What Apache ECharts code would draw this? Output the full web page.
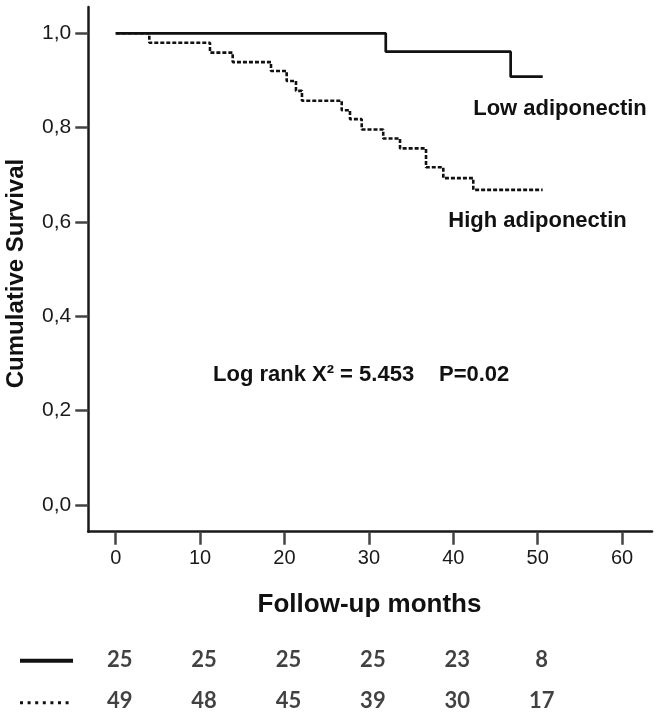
<!DOCTYPE html>
<html>
<head>
<meta charset="utf-8">
<script src="https://cdn.jsdelivr.net/npm/echarts@6/dist/echarts.min.js"></script>
<style>
html,body{margin:0;padding:0;background:#fff;}
#c{width:658px;height:721px;}
</style>
</head>
<body>
<div id="c"></div>
<script>
// Kaplan-Meier step data (months, cumulative survival)
const lowTime  = [0, 32.0, 46.8, 50.6];
const lowSurv  = [1.0, 0.961, 0.908, 0.908];
const highTime = [0, 3.98, 11.17, 13.86, 18.4, 20.26, 21.36, 22.07, 26.78, 27.76, 29.15, 31.7, 33.69, 36.77, 38.82, 42.37, 50.59];
const highSurv = [1.0, 0.980, 0.959, 0.939, 0.920, 0.899, 0.878, 0.857, 0.837, 0.818, 0.796, 0.777, 0.756, 0.716, 0.693, 0.668, 0.668];

// axis ticks
const xTicks = [0, 10, 20, 30, 40, 50, 60];
const yTicks = [0, 0.2, 0.4, 0.6, 0.8, 1.0];

// numbers at risk
const atRiskMonths = [0, 10, 20, 30, 40, 50];
const atRiskLow  = [25, 25, 25, 25, 23, 8];
const atRiskHigh = [49, 48, 45, 39, 30, 17];

const seriesNames = ['Low adiponectin', 'High adiponectin'];

const chart = echarts.init(document.getElementById('c'), null, {renderer: 'canvas'});

const AX = '#1a1a1a';
const FONT = '"Liberation Sans", Arial, sans-serif';
const xMin = -3.25, xMax = 63.55;

const lowRow = atRiskMonths.map((m, i) => ({value: [m, 1], count: atRiskLow[i]}));
const highRow = atRiskMonths.map((m, i) => ({value: [m, 0], count: atRiskHigh[i]}));

const tableLabel = {
  show: true, position: 'inside', offset: [4, 0],
  formatter: p => String(p.data.count),
  color: '#111', fontSize: 22, fontWeight: 'bold', fontFamily: 'Lato, "Open Sans", sans-serif'
};

const option = {
  animation: false,
  backgroundColor: '#fff',
  grid: [
    {left: 88.3, right: 6, top: 7, bottom: 189.3},
    {left: 88.3, right: 6, top: 639.8, height: 90}
  ],
  xAxis: [
    {
      type: 'value', gridIndex: 0, min: xMin, max: xMax,
      axisLine: {onZero: false, lineStyle: {color: AX, width: 2.5}},
      axisTick: {show: true, length: 13, customValues: xTicks, lineStyle: {color: '#444', width: 2.5}},
      axisLabel: {customValues: xTicks, margin: 17, color: '#1a1a1a', fontSize: 20, fontFamily: FONT},
      splitLine: {show: false}
    },
    {
      type: 'value', gridIndex: 1, min: xMin, max: xMax, show: false, splitLine: {show: false}
    }
  ],
  yAxis: [
    {
      type: 'value', gridIndex: 0, min: -0.0566, max: 1.0558,
      axisLine: {show: true, onZero: false, lineStyle: {color: AX, width: 2.5}},
      axisTick: {show: true, length: 13, customValues: yTicks, lineStyle: {color: '#444', width: 2.5}},
      axisLabel: {
        customValues: yTicks, margin: 17, color: '#1a1a1a', fontSize: 21, fontFamily: FONT,
        formatter: v => v.toFixed(1).replace('.', ',')
      },
      splitLine: {show: false}
    },
    {
      type: 'value', gridIndex: 1, min: -0.5, max: 1.5, show: false, splitLine: {show: false}
    }
  ],
  series: [
    {
      name: seriesNames[0], type: 'line', step: 'end', symbol: 'none', silent: true,
      xAxisIndex: 0, yAxisIndex: 0,
      data: lowTime.map((t, i) => [t, lowSurv[i]]),
      lineStyle: {color: '#111', width: 2.7, type: 'solid'},
      z: 3
    },
    {
      name: seriesNames[1], type: 'line', step: 'end', symbol: 'none', silent: true,
      xAxisIndex: 0, yAxisIndex: 0,
      data: highTime.map((t, i) => [t, highSurv[i]]),
      lineStyle: {color: '#111', width: 2.6, type: [4, 2], cap: 'butt'},
      z: 2
    },
    {
      name: 'atRiskLow', type: 'scatter', xAxisIndex: 1, yAxisIndex: 1, silent: true,
      symbolSize: 2, itemStyle: {color: 'rgba(0,0,0,0)'},
      data: lowRow, label: tableLabel
    },
    {
      name: 'atRiskHigh', type: 'scatter', xAxisIndex: 1, yAxisIndex: 1, silent: true,
      symbolSize: 2, itemStyle: {color: 'rgba(0,0,0,0)'},
      data: highRow, label: tableLabel
    }
  ],
  graphic: [
    {type: 'text', x: 560, y: 109, style: {text: 'Low adiponectin', align: 'center', verticalAlign: 'middle', font: 'bold 22px ' + FONT, fill: '#111'}},
    {type: 'text', x: 537.5, y: 221, style: {text: 'High adiponectin', align: 'center', verticalAlign: 'middle', font: 'bold 22px ' + FONT, fill: '#111'}},
    {type: 'text', x: 213, y: 375, style: {text: 'Log rank X\u00B2 = 5.453', align: 'left', verticalAlign: 'middle', font: 'bold 22px ' + FONT, fill: '#111'}},
    {type: 'text', x: 439, y: 375, style: {text: 'P=0.02', align: 'left', verticalAlign: 'middle', font: 'bold 22px ' + FONT, fill: '#111'}},
    {type: 'text', x: 16, y: 273.5, rotation: Math.PI / 2, style: {text: 'Cumulative Survival', align: 'center', verticalAlign: 'middle', font: 'bold 24px ' + FONT, fill: '#111'}},
    {type: 'text', x: 369.5, y: 605, style: {text: 'Follow-up months', align: 'center', verticalAlign: 'middle', font: 'bold 26px ' + FONT, fill: '#111'}},
    {type: 'line', shape: {x1: 20, y1: 660.7, x2: 73, y2: 660.7}, style: {stroke: '#111', lineWidth: 4}},
    {type: 'line', shape: {x1: 20, y1: 702.7, x2: 73, y2: 702.7}, style: {stroke: '#111', lineWidth: 3, lineDash: [3, 4.6]}}
  ]
};

chart.setOption(option);
</script>
</body>
</html>
